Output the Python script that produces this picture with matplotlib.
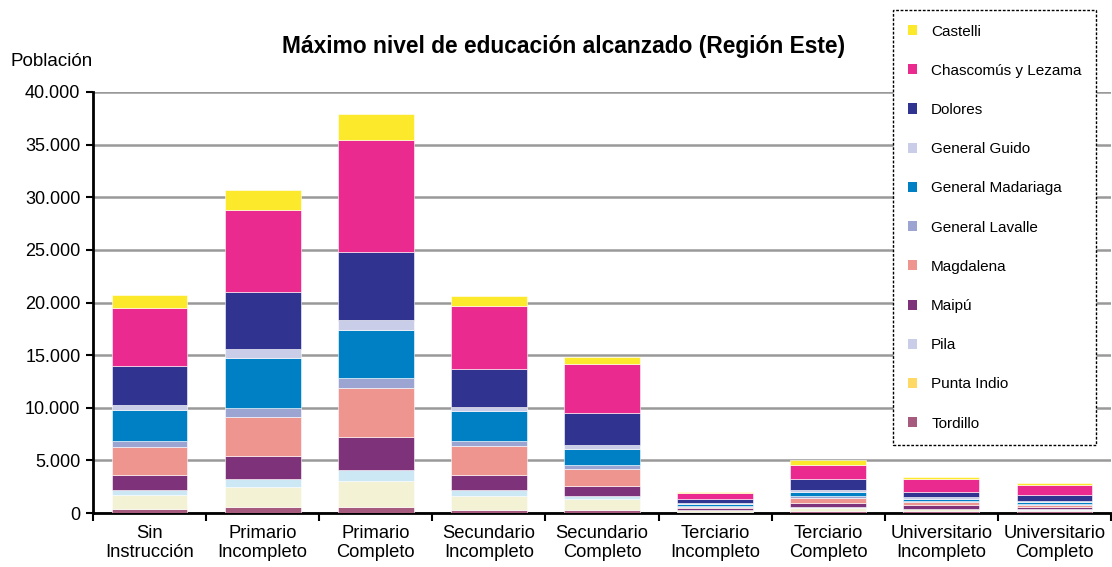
import matplotlib.pyplot as plt
from matplotlib.patches import Patch
from matplotlib.ticker import FuncFormatter, FixedLocator
import numpy as np

plt.rcParams['font.family'] = ['Liberation Sans', 'DejaVu Sans']

categories = ['Sin\nInstrucción', 'Primario\nIncompleto', 'Primario\nCompleto',
              'Secundario\nIncompleto', 'Secundario\nCompleto', 'Terciario\nIncompleto',
              'Terciario\nCompleto', 'Universitario\nIncompleto', 'Universitario\nCompleto']

# series, bottom of stack first
tordillo = [380, 540, 540, 290, 290, 80, 200, 190, 150]
punta_indio = [1360, 1900, 2470, 1330, 1040, 170, 250, 170, 170]
pila = [450, 820, 1080, 540, 290, 70, 90, 60, 90]
maipu = [1420, 2160, 3100, 1480, 950, 160, 430, 300, 130]
magdalena = [2630, 3700, 4660, 2760, 1610, 100, 490, 300, 250]
gral_lavalle = [600, 830, 1010, 440, 350, 80, 160, 90, 100]
gral_madariaga = [2950, 4750, 4560, 2820, 1550, 200, 410, 250, 150]
gral_guido = [470, 880, 880, 440, 380, 90, 170, 140, 70]
dolores = [3740, 5420, 6530, 3550, 3070, 420, 1050, 530, 630]
chascomus = [5500, 7760, 10640, 5990, 4630, 510, 1350, 1200, 950]
castelli = [1200, 1930, 2430, 980, 690, 130, 440, 160, 150]

series = [
    ('Tordillo', tordillo, '#a65a7e', '#a65a7e'),
    ('Punta Indio', punta_indio, '#f3f2d5', '#ffd966'),
    ('Pila', pila, '#cce8f4', '#c9cde8'),
    ('Maipú', maipu, '#7d3279', '#7d3279'),
    ('Magdalena', magdalena, '#ee9590', '#ee9590'),
    ('General Lavalle', gral_lavalle, '#9ca4d2', '#9ca4d2'),
    ('General Madariaga', gral_madariaga, '#0080c4', '#0080c4'),
    ('General Guido', gral_guido, '#c9cde8', '#c9cde8'),
    ('Dolores', dolores, '#303490', '#303490'),
    ('Chascomús y Lezama', chascomus, '#ea2a8e', '#ea2a8e'),
    ('Castelli', castelli, '#fde92b', '#fde92b'),
]

fig = plt.figure(figsize=(11.12, 5.67), dpi=100)
ax = fig.add_axes([93 / 1112, 54 / 567, 1018 / 1112, 421 / 567])

x = np.arange(len(categories))
bottom = np.zeros(len(categories))
for name, vals, col, _ in series:
    ax.bar(x, vals, 0.67, bottom=bottom, color=col, edgecolor='white', linewidth=0.4, zorder=3)
    bottom += np.array(vals)

ax.set_xlim(-0.5, len(categories) - 0.5)
ax.set_ylim(0, 40000)
ax.set_yticks(range(0, 40001, 5000))
ax.yaxis.set_major_formatter(FuncFormatter(lambda v, p: f'{v:,.0f}'.replace(',', '.')))
ax.grid(axis='y', color='#999999', linewidth=1.8, zorder=0)

ax.xaxis.set_major_locator(FixedLocator(np.arange(-0.5, len(categories), 1.0)))
ax.xaxis.set_minor_locator(FixedLocator(x))
ax.set_xticklabels([], minor=False)
ax.set_xticklabels(categories, minor=True, linespacing=1.1)
ax.tick_params(axis='x', which='major', direction='out', length=6, width=1.5)
ax.tick_params(axis='x', which='minor', length=0, pad=9, labelsize=13.2)
ax.tick_params(axis='y', direction='out', length=5, width=1.5, labelsize=13, pad=4)

for s in ['top', 'right']:
    ax.spines[s].set_visible(False)
for s in ['left', 'bottom']:
    ax.spines[s].set_linewidth(2)

fig.text(0.507, 1 - 47 / 567, 'Máximo nivel de educación alcanzado (Región Este)',
         ha='center', va='center', fontsize=16.4, fontweight='bold')
fig.text(10 / 1112, 1 - 62 / 567, 'Población', ha='left', va='center', fontsize=13.5)

handles = [Patch(facecolor=lc, edgecolor='none', label=name) for name, _, _, lc in reversed(series)]
leg = fig.legend(handles=handles, loc='upper left', bbox_to_anchor=(893 / 1112, 1 - 10 / 567),
                 frameon=True, fancybox=False, fontsize=11, labelspacing=1.65,
                 handlelength=0.65, handleheight=0.65, handletextpad=0.9, borderpad=0.95,
                 borderaxespad=0)
frame = leg.get_frame()
frame.set_edgecolor('black')
frame.set_linestyle((0, (2, 1.2)))
frame.set_linewidth(1)
frame.set_facecolor('white')
frame.set_alpha(1)

fig.savefig('out.png', dpi=100)
